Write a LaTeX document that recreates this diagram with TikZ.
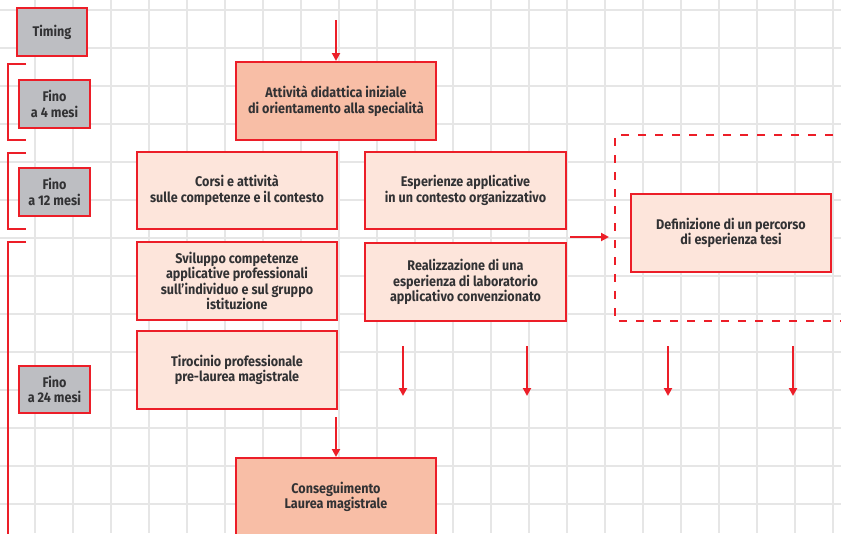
\documentclass[tikz,border=0pt]{standalone}
\usepackage{fontspec}
\setmainfont{Fira Sans}[FakeStretch=0.9]
\usetikzlibrary{arrows.meta}

\definecolor{flowred}{RGB}{236,30,40}
\definecolor{boxlight}{RGB}{253,229,219}
\definecolor{boxdark}{RGB}{248,190,166}
\definecolor{timegray}{RGB}{189,190,194}
\definecolor{gridgray}{RGB}{230,230,230}
\definecolor{textgray}{RGB}{50,50,52}

\tikzset{
	gridline/.style={draw=gridgray, line width=1.3pt},
	box/.style={draw=flowred, line width=2pt, fill=boxlight, text=textgray, align=center,
		inner sep=0pt, font=\bfseries\fontsize{14}{15.6}\selectfont},
	keybox/.style={box, fill=boxdark},
	timebox/.style={box, fill=timegray},
	flow/.style={draw=flowred, line width=2.4pt, -{Triangle[length=8pt,width=8pt]}},
	bracket/.style={draw=flowred, line width=1.8pt},
	dashbox/.style={draw=flowred, line width=1.6pt, dash pattern=on 8pt off 9pt}
}

\begin{document}
\begin{tikzpicture}[x=1pt,y=-1pt]
		\useasboundingbox (0,0) rectangle (841,533);
		\fill[white] (0,0) rectangle (841,533);
		% squared paper
		\foreach \gx in {35,73,...,833} \draw[gridline] (\gx,0) -- (\gx,533);
		\foreach \gy in {10,48,...,504} \draw[gridline] (0,\gy) -- (841,\gy);

		% timing column
		\node[timebox, minimum width=70, minimum height=48] (timing) at (52,32) {Timing};
		\node[timebox, minimum width=71, minimum height=48] (fino4) at (54.5,104) {Fino\\a 4 mesi};
		\node[timebox, minimum width=71, minimum height=48] (fino12) at (54.5,192) {Fino\\a 12 mesi};
		\node[timebox, minimum width=71, minimum height=47] (fino24) at (54.5,389.5) {Fino\\a 24 mesi};
		\draw[bracket] (26,64) -- (8,64) -- (8,140) -- (26,140);
		\draw[bracket] (26,153) -- (8,153) -- (8,229) -- (26,229);
		\draw[bracket] (26,242) -- (8,242) -- (8,540);

		% main flow
		\node[keybox, minimum width=200, minimum height=78] (attivita) at (336,101) {Attività didattica iniziale\\di orientamento alla specialità};
		\node[box, minimum width=200, minimum height=77] (corsi) at (237,190.5) {Corsi e attività\\sulle competenze e il contesto};
		\node[box, minimum width=201, minimum height=77] (esperienze) at (465.5,190.5) {Esperienze applicative\\in un contesto organizzativo};
		\node[box, minimum width=200, minimum height=78] (sviluppo) at (237,281) {Sviluppo competenze\\applicative professionali\\sull’individuo e sul gruppo\\istituzione};
		\node[box, minimum width=201, minimum height=78] (realizzazione) at (465.5,282) {Realizzazione di una\\esperienza di laboratorio\\applicativo convenzionato};
		\node[box, minimum width=200, minimum height=78] (tirocinio) at (237,370) {Tirocinio professionale\\pre-laurea magistrale};
		\node[keybox, minimum width=200, minimum height=78] (conseguimento) at (336,497) {Conseguimento\\Laurea magistrale};

		% thesis path
		\draw[dashbox] (850,135) -- (615,135) -- (615,321) -- (850,321);
		\node[box, minimum width=200, minimum height=78] (definizione) at (731,233) {Definizione di un percorso\\di esperienza tesi};

		\coordinate (in) at (336,20);
		\coordinate (tesiA) at (570,237);
		\coordinate (tesiB) at (609,237);
		\coordinate (outAs) at (403,346);
		\coordinate (outAe) at (403,396);
		\coordinate (outBs) at (527,346);
		\coordinate (outBe) at (527,396);
		\coordinate (outCs) at (668,346);
		\coordinate (outCe) at (668,396);
		\coordinate (outDs) at (793,346);
		\coordinate (outDe) at (793,396);

		\draw[flow] (in) -- (attivita);
		\draw[flow, shorten <=7pt] (tirocinio.south -| conseguimento.north) -- (conseguimento);
		\draw[flow] (tesiA) -- (tesiB);
		\draw[flow] (outAs) -- (outAe);
		\draw[flow] (outBs) -- (outBe);
		\draw[flow] (outCs) -- (outCe);
		\draw[flow] (outDs) -- (outDe);
	\end{tikzpicture}
\end{document}
